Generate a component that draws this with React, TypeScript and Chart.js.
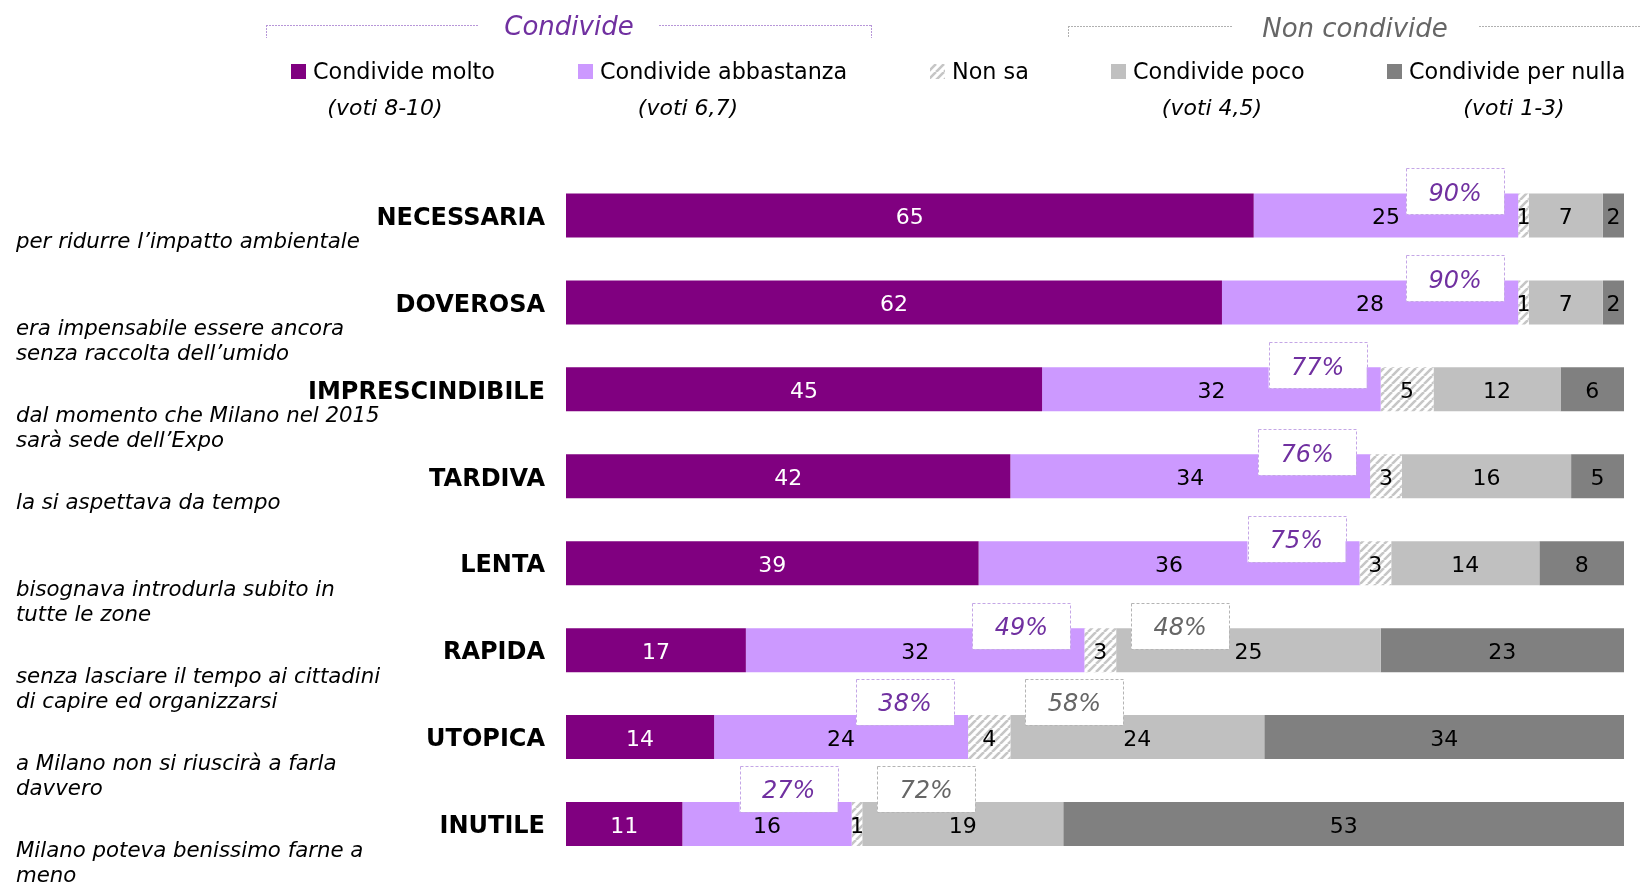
import React, { useEffect, useRef } from 'react';
import { Chart, registerables } from 'chart.js';

Chart.register(...registerables);

const categories = ['NECESSARIA', 'DOVEROSA', 'IMPRESCINDIBILE', 'TARDIVA', 'LENTA', 'RAPIDA', 'UTOPICA', 'INUTILE'];
const descriptions: string[][] = [
  ['per ridurre l’impatto ambientale'],
  ['era impensabile essere ancora', 'senza raccolta dell’umido'],
  ['dal momento che Milano nel 2015', 'sarà sede dell’Expo'],
  ['la si aspettava da tempo'],
  ['bisognava introdurla subito in', 'tutte le zone'],
  ['senza lasciare il tempo ai cittadini', 'di capire ed organizzarsi'],
  ['a Milano non si riuscirà a farla', 'davvero'],
  ['Milano poteva benissimo farne a', 'meno'],
];
const seriesLabels = ['Condivide molto', 'Condivide abbastanza', 'Non sa', 'Condivide poco', 'Condivide per nulla'];
const seriesSubLabels = ['(voti 8-10)', '(voti 6,7)', '', '(voti 4,5)', '(voti 1-3)'];
const molto = [65, 62, 45, 42, 39, 17, 14, 11];
const abbastanza = [25, 28, 32, 34, 36, 32, 24, 16];
const nonSa = [1, 1, 5, 3, 3, 3, 4, 1];
const poco = [7, 7, 12, 16, 14, 25, 24, 19];
const perNulla = [2, 2, 6, 5, 8, 23, 34, 53];
const condivideTot = [90, 90, 77, 76, 75, 49, 38, 27];
const nonCondivideTot: (number | null)[] = [null, null, null, null, null, 48, 58, 72];
const groupTitles = ['Condivide', 'Non condivide'];

const FONT = "'DejaVu Sans', Verdana, sans-serif";
const PURPLE_TXT = '#7030a0';
const GREY_TXT = '#666666';

function makeHatch(): CanvasPattern | string {
  const c = document.createElement('canvas');
  const s = 8;
  c.width = s;
  c.height = s;
  const g = c.getContext('2d');
  if (!g) return '#dddddd';
  g.fillStyle = '#ffffff';
  g.fillRect(0, 0, s, s);
  g.strokeStyle = '#c6c6c6';
  g.lineWidth = 2.6;
  g.beginPath();
  for (const x0 of [-s, 0, s]) {
    g.moveTo(x0, s);
    g.lineTo(x0 + s, 0);
  }
  g.stroke();
  return g.createPattern(c, 'repeat') || '#dddddd';
}

function dashedRect(ctx: CanvasRenderingContext2D, x: number, y: number, w: number, h: number, color: string) {
  ctx.save();
  ctx.fillStyle = '#ffffff';
  ctx.fillRect(x, y, w, h);
  ctx.strokeStyle = color;
  ctx.lineWidth = 1;
  ctx.setLineDash([3, 2]);
  ctx.strokeRect(Math.round(x) + 0.5, Math.round(y) + 0.5, Math.round(w), Math.round(h));
  ctx.restore();
}

function hLine(ctx: CanvasRenderingContext2D, x1: number, x2: number, y: number, color: string) {
  ctx.save();
  ctx.strokeStyle = color;
  ctx.lineWidth = 1;
  ctx.setLineDash([2, 1]);
  ctx.beginPath();
  ctx.moveTo(x1, y + 0.5);
  ctx.lineTo(x2, y + 0.5);
  ctx.stroke();
  ctx.restore();
}

function vLine(ctx: CanvasRenderingContext2D, x: number, y1: number, y2: number, color: string) {
  ctx.save();
  ctx.strokeStyle = color;
  ctx.lineWidth = 1;
  ctx.setLineDash([2, 1]);
  ctx.beginPath();
  ctx.moveTo(x + 0.5, y1);
  ctx.lineTo(x + 0.5, y2);
  ctx.stroke();
  ctx.restore();
}

const overlayPlugin = {
  id: 'overlay',
  afterDatasetsDraw(chart: any) {
    const ctx: CanvasRenderingContext2D = chart.ctx;
    const xs = chart.scales.x;
    const ys = chart.scales.y;
    ctx.save();
    // value labels
    ctx.font = `22px ${FONT}`;
    ctx.textAlign = 'center';
    ctx.textBaseline = 'middle';
    const labelBoxes: { row: number; l: number; r: number }[] = [];
    chart.data.datasets.forEach((ds: any, di: number) => {
      const meta = chart.getDatasetMeta(di);
      meta.data.forEach((bar: any, i: number) => {
        const v = ds.data[i];
        if (v == null) return;
        const p = bar.getProps(['x', 'base', 'y'], true);
        const cx = (p.x + p.base) / 2;
        const w = ctx.measureText(String(v)).width;
        labelBoxes.push({ row: i, l: cx - w / 2, r: cx + w / 2 });
        ctx.fillStyle = di === 0 ? '#ffffff' : '#000000';
        ctx.fillText(String(v), cx, p.y + 3);
      });
    });
    // total boxes (lifted when they would cover a value label)
    const bw = 98;
    const bh = 46;
    const boxTop = (row: number, l: number, r: number) => {
      const cy = ys.getPixelForValue(row);
      const hit = labelBoxes.some((b) => b.row === row && b.r > l - 3 && b.l < r + 3);
      return (hit ? cy - 12 : cy - 1) - bh;
    };
    ctx.font = `italic 24px ${FONT}`;
    condivideTot.forEach((t, i) => {
      const right = xs.getPixelForValue(t) - 14;
      const top = boxTop(i, right - bw, right);
      dashedRect(ctx, right - bw, top, bw, bh, '#c4a6e6');
      ctx.fillStyle = PURPLE_TXT;
      ctx.fillText(`${t}%`, right - bw / 2, top + bh / 2 + 3);
    });
    nonCondivideTot.forEach((t, i) => {
      if (t == null) return;
      const left = xs.getPixelForValue(100 - t) + 15;
      const top = boxTop(i, left, left + bw);
      dashedRect(ctx, left, top, bw, bh, '#b4b4b4');
      ctx.fillStyle = GREY_TXT;
      ctx.fillText(`${t}%`, left + bw / 2, top + bh / 2 + 3);
    });
    ctx.restore();
  },
  afterDraw(chart: any) {
    const ctx: CanvasRenderingContext2D = chart.ctx;
    const ys = chart.scales.y;
    ctx.save();
    // group headers
    const purpleLine = '#b796d8';
    const greyLine = '#b0b0b0';
    hLine(ctx, 266, 478, 25, purpleLine);
    hLine(ctx, 659, 871, 25, purpleLine);
    vLine(ctx, 266, 25, 38, purpleLine);
    vLine(ctx, 871, 25, 38, purpleLine);
    hLine(ctx, 1068, 1233, 26, greyLine);
    hLine(ctx, 1479, 1640, 26, greyLine);
    vLine(ctx, 1068, 26, 38, greyLine);
    ctx.font = `italic 26px ${FONT}`;
    ctx.textAlign = 'center';
    ctx.textBaseline = 'middle';
    ctx.fillStyle = PURPLE_TXT;
    ctx.fillText(groupTitles[0], 569, 28);
    ctx.fillStyle = GREY_TXT;
    ctx.fillText(groupTitles[1], 1355, 30);

    // legend
    const sqX = [291, 578, 930, 1111, 1387];
    const subX = [385, 688, 0, 1212, 1514];
    chart.data.datasets.forEach((ds: any, di: number) => {
      ctx.fillStyle = ds.backgroundColor;
      ctx.fillRect(sqX[di], 64, 15, 15);
      ctx.fillStyle = '#000000';
      ctx.font = `22.3px ${FONT}`;
      ctx.textAlign = 'left';
      ctx.textBaseline = 'alphabetic';
      ctx.fillText(seriesLabels[di], sqX[di] + 22, 79);
      if (seriesSubLabels[di]) {
        ctx.font = `italic 22px ${FONT}`;
        ctx.textAlign = 'center';
        ctx.textBaseline = 'middle';
        ctx.fillText(seriesSubLabels[di], subX[di], 109);
      }
    });

    // category labels and descriptions
    categories.forEach((c, i) => {
      const cy = ys.getPixelForValue(i);
      ctx.fillStyle = '#000000';
      ctx.font = `bold 24px ${FONT}`;
      ctx.textAlign = 'right';
      ctx.textBaseline = 'middle';
      ctx.fillText(c, 545, cy + 3);
      ctx.font = `italic 21.3px ${FONT}`;
      ctx.textAlign = 'left';
      descriptions[i].forEach((line, li) => {
        ctx.fillText(line, 16, cy + 27 + li * 25);
      });
    });
    ctx.restore();
  },
};

export default function App() {
  const ref = useRef<HTMLCanvasElement | null>(null);
  useEffect(() => {
    if (!ref.current) return;
    const hatch = makeHatch();
    const chart = new Chart(ref.current, {
      type: 'bar',
      data: {
        labels: categories,
        datasets: [
          { label: seriesLabels[0], data: molto, backgroundColor: '#800080' },
          { label: seriesLabels[1], data: abbastanza, backgroundColor: '#cc99ff' },
          { label: seriesLabels[2], data: nonSa, backgroundColor: hatch as any },
          { label: seriesLabels[3], data: poco, backgroundColor: '#c0c0c0' },
          { label: seriesLabels[4], data: perNulla, backgroundColor: '#808080' },
        ],
      },
      options: {
        indexAxis: 'y',
        responsive: false,
        animation: false,
        maintainAspectRatio: false,
        layout: { padding: { left: 566, right: 16, top: 172, bottom: 14.5 } },
        datasets: { bar: { barPercentage: 0.506, categoryPercentage: 1, borderWidth: 0 } },
        scales: {
          x: { stacked: true, min: 0, max: 100, display: false },
          y: { stacked: true, display: false },
        },
        plugins: { legend: { display: false }, tooltip: { enabled: false } },
      },
      plugins: [overlayPlugin],
    });
    return () => chart.destroy();
  }, []);
  return (
    <div style={{ position: 'fixed', left: 0, top: 0, width: 1640, height: 882, background: '#fff' }}>
      <canvas ref={ref} width={1640} height={882} style={{ width: 1640, height: 882, display: 'block' }} />
    </div>
  );
}
